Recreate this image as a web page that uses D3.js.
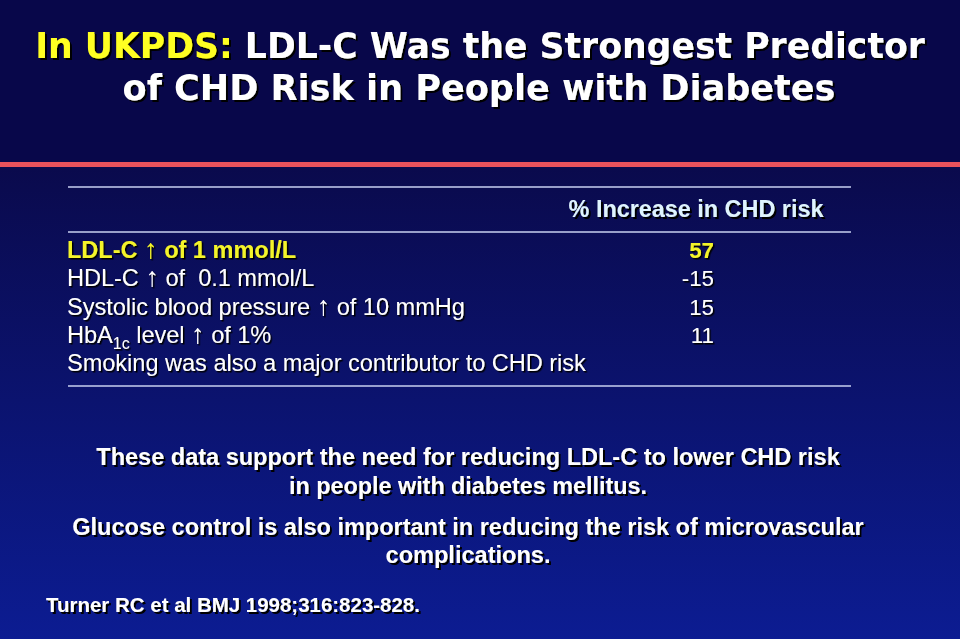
<!DOCTYPE html>
<html><head><meta charset="utf-8">
<script src="https://cdn.jsdelivr.net/npm/d3@7"></script>
<style>html,body{margin:0;padding:0;background:#08074a;}svg{display:block;}</style>
</head><body>
<svg id="c" width="960" height="639"></svg>
<script>
// ---- data ----
const titleLines = [["In UKPDS: ", "LDL-C Was the Strongest Predictor"], ["", "of CHD Risk in People with Diabetes"]];
const columnHeader = "% Increase in CHD risk";
const factors = ["LDL-C ↑ of 1 mmol/L", "HDL-C ↑ of \u00a00.1 mmol/L", "Systolic blood pressure ↑ of 10 mmHg", "HbA1c level ↑ of 1%", "Smoking was also a major contributor to CHD risk"];
const increases = ["57", "-15", "15", "11", null];
const notes1 = ["These data support the need for reducing LDL-C to lower CHD risk", "in people with diabetes mellitus."];
const notes2 = ["Glucose control is also important in reducing the risk of microvascular", "complications."];
const citation = "Turner RC et al BMJ 1998;316:823-828.";

const W = 960, H = 639;
const svg = d3.select("#c");
const defs = svg.append("defs");
const g = defs.append("linearGradient").attr("id","bg").attr("x1",0).attr("y1",0).attr("x2",0).attr("y2",1);
g.append("stop").attr("offset","0%").attr("stop-color","#0a0a4c");
g.append("stop").attr("offset","100%").attr("stop-color","#0c1c92");
function addShadow(id, d) {
  defs.append("filter").attr("id", id).attr("x","-5%").attr("y","-30%").attr("width","115%").attr("height","170%")
    .append("feDropShadow").attr("dx", d).attr("dy", d).attr("stdDeviation", 0.4)
    .attr("flood-color", "#000").attr("flood-opacity", 1);
}
addShadow("sh2", 2);
addShadow("sh15", 1.5);

svg.append("rect").attr("x",0).attr("y",0).attr("width",W).attr("height",163).attr("fill","#08074a");
svg.append("rect").attr("x",0).attr("y",163).attr("width",W).attr("height",H-163).attr("fill","url(#bg)");
svg.append("rect").attr("x",0).attr("y",162).attr("width",W).attr("height",5).attr("fill","#e8525c");

// helper: text with drop shadow; if targetW given, font-size is scaled so the text spans that width
function label(x, y, anchor, size, weight, family, fill, build, targetW, sh="sh2") {
  const t = svg.append("text").attr("x", x).attr("y", y).attr("text-anchor", anchor)
    .attr("font-family", family).attr("font-weight", weight).attr("font-size", size).attr("fill", fill)
    .attr("filter", `url(#${sh})`);
  build(t);
  if (targetW) {
    const w = t.node().getComputedTextLength();
    t.attr("font-size", size * targetW / w);
  }
  return t;
}

// title
const titleFont = "DejaVu Sans, sans-serif";
label(480, 58, "middle", 30, "bold", titleFont, "#fff", t => {
  t.append("tspan").attr("fill", "#ffff22").text(titleLines[0][0]);
  t.append("tspan").text(titleLines[0][1]);
}, 890);
label(479, 100, "middle", 30, "bold", titleFont, "#fff", t => t.text(titleLines[1][1]), 713);

// table
const tableX0 = 68, tableX1 = 851;
const ruleColor = "#c8d0f0";
[187, 232, 386].forEach(y => svg.append("line").attr("x1",tableX0).attr("x2",tableX1).attr("y1",y).attr("y2",y)
  .attr("stroke",ruleColor).attr("stroke-width",1.5));

const armFont = "Liberation Sans, Arial, sans-serif";
label(696, 217, "middle", 20, "bold", armFont, "#dff4ff", t => t.text(columnHeader), 255);

// row font size derived from the widest row
const probe = svg.append("text").attr("font-family", armFont).attr("font-size", 20).text(factors[4]);
const rowSize = 20 * 519 / probe.node().getComputedTextLength();
probe.remove();

function withArrow(t, s, dyFirst) {
  const parts = s.split("↑");
  const first = t.append("tspan").text(parts[0]);
  if (dyFirst) first.attr("dy", dyFirst);
  if (parts.length > 1) {
    t.append("tspan").attr("font-weight", "normal").attr("font-size", "1.15em").text("↑");
    t.append("tspan").text(parts[1]);
  }
}

const y = d3.scalePoint().domain(d3.range(factors.length)).range([258, 371]);
factors.forEach((f, i) => {
  const isKey = i === 0;
  label(67, y(i), "start", rowSize, isKey ? "bold" : "normal", armFont, isKey ? "#f4f42a" : "#fff", t => {
    if (f.startsWith("HbA1c")) {
      t.append("tspan").text("HbA");
      t.append("tspan").attr("font-size", "0.68em").attr("dy", 6).text("1c");
      withArrow(t, f.slice(5), -6);
    } else withArrow(t, f);
  }, null, "sh15");
  if (increases[i] !== null) {
    label(714, y(i), "end", rowSize * 0.95, isKey ? "bold" : "normal", armFont, isKey ? "#f4f42a" : "#fff",
      t => t.text(increases[i]), null, "sh15");
  }
});

// notes
label(468, 465, "middle", 21.5, "bold", armFont, "#fff", t => t.text(notes1[0]), 744);
label(468, 494, "middle", 21.5, "bold", armFont, "#fff", t => t.text(notes1[1]), 358);
label(468, 535, "middle", 21.5, "bold", armFont, "#fff", t => t.text(notes2[0]), 792);
label(468, 563, "middle", 21.5, "bold", armFont, "#fff", t => t.text(notes2[1]), 165);
label(46, 612, "start", 17, "bold", armFont, "#fff", t => t.text(citation), 374);
</script>
</body></html>
